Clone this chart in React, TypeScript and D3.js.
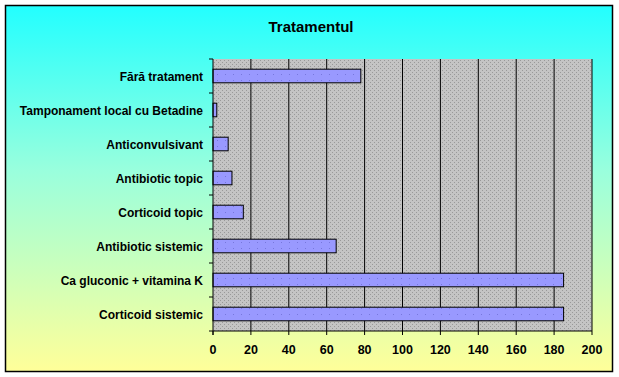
import React from "react";
import * as d3 from "d3";

const categories = [
  "Fără tratament",
  "Tamponament local cu Betadine",
  "Anticonvulsivant",
  "Antibiotic topic",
  "Corticoid topic",
  "Antibiotic sistemic",
  "Ca gluconic + vitamina K",
  "Corticoid sistemic",
];
const values = [78, 2, 8, 10, 16, 65, 185, 185];
const xTicks = [0, 20, 40, 60, 80, 100, 120, 140, 160, 180, 200];
const title = "Tratamentul";

export default function App() {
  const W = 619, H = 377;
  const left = 213, right = 592, top = 59, bottom = 331;
  const x = d3.scaleLinear().domain([0, 200]).range([left, right]);
  const y = d3.scaleBand<string>().domain(categories).range([top, bottom]).paddingInner(0.6).paddingOuter(0.3);
  const band = (bottom - top) / categories.length;
  const font = "'Liberation Sans', Arial, sans-serif";
  return (
    <svg width={W} height={H} style={{ position: "absolute", left: 0, top: 0, background: "#fff" }}>
      <defs>
        <linearGradient id="bg" x1="0" y1="0" x2="0" y2="1">
          <stop offset="0" stopColor="#22ffff" />
          <stop offset="0.45" stopColor="#99ffdd" />
          <stop offset="1" stopColor="#ffff99" />
        </linearGradient>
        <pattern id="dots" width="4" height="4" patternUnits="userSpaceOnUse">
          <rect width="4" height="4" fill="#c4c4c4" />
          <rect x="0" y="0" width="1" height="1" fill="#999" />
          <rect x="2" y="2" width="1" height="1" fill="#999" />
        </pattern>
        <pattern id="bdots" width="8" height="6" patternUnits="userSpaceOnUse">
          <rect width="8" height="6" fill="#9999ff" />
          <rect x="1" y="2" width="1" height="1" fill="#7777dd" />
        </pattern>
      </defs>
      <rect x={5.5} y={5.5} width={607} height={366} fill="url(#bg)" stroke="#000" strokeWidth={1.5} />
      <text x={311} y={32} textAnchor="middle" fontFamily={font} fontWeight="bold" fontSize={15} letterSpacing={0}>{title}</text>
      <rect x={left} y={top} width={right - left} height={bottom - top} fill="url(#dots)" />
      {xTicks.slice(1).map((t) => (
        <line key={t} x1={x(t)} x2={x(t)} y1={top} y2={bottom} stroke="#000" strokeWidth={1} />
      ))}
      {values.map((v, i) => (
        <rect key={i} x={x(0)} y={y(categories[i])!} width={x(v) - x(0)} height={y.bandwidth()} fill="url(#bdots)" stroke="#000" strokeWidth={1} />
      ))}
      <line x1={left} x2={left} y1={top} y2={bottom + 4} stroke="#000" />
      <line x1={left - 4} x2={right} y1={bottom} y2={bottom} stroke="#000" />
      {categories.map((c, i) => (
        <g key={c}>
          <line x1={left - 4} x2={left} y1={top + band * i} y2={top + band * i} stroke="#000" />
          <text x={203} y={y(c)! + y.bandwidth() / 2 + 4.5} textAnchor="end" fontFamily={font} fontWeight="bold" fontSize={12} letterSpacing={0}>{c}</text>
        </g>
      ))}
      {xTicks.map((t) => (
        <g key={t}>
          <line x1={x(t)} x2={x(t)} y1={bottom} y2={bottom + 4} stroke="#000" />
          <text x={x(t)} y={354} textAnchor="middle" fontFamily={font} fontWeight="bold" fontSize={12.5} letterSpacing={0}>{t}</text>
        </g>
      ))}
    </svg>
  );
}
